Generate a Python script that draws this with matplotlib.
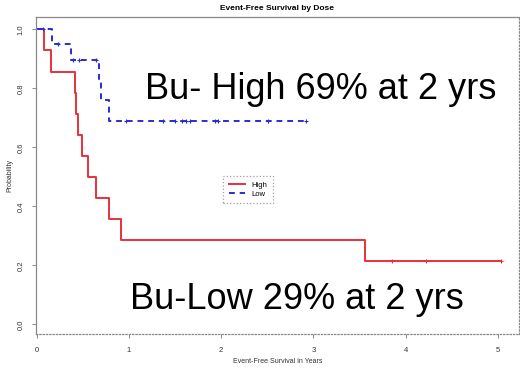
import numpy as np
import matplotlib
matplotlib.use('Agg')
import matplotlib.pyplot as plt

plt.rcParams['font.family'] = ['Liberation Sans', 'DejaVu Sans']

# Kaplan-Meier steps
high_t = [0, 0.08, 0.15, 0.41, 0.43, 0.45, 0.49, 0.56, 0.64, 0.78, 0.91, 3.56, 5.03]
high_s = [1.0, 0.929, 0.857, 0.786, 0.714, 0.643, 0.571, 0.500, 0.429, 0.357, 0.286, 0.214, 0.214]
high_cens = [3.85, 4.22, 5.03]

low_t = [0, 0.16, 0.37, 0.68, 0.70, 0.78, 2.92]
low_s = [1.0, 0.95, 0.895, 0.83, 0.76, 0.69, 0.69]
low_cens = [0.07, 0.23, 0.39, 0.46, 0.64, 0.97, 1.37, 1.50, 1.57, 1.62, 1.66,
            1.93, 1.97, 2.51, 2.92]

x_ticks = [0, 1, 2, 3, 4, 5]
y_ticks = [0.0, 0.2, 0.4, 0.6, 0.8, 1.0]

red = '#e8303a'
blue = '#2b2bd6'


def surv_at(t, times, surv):
    i = np.searchsorted(times, t, side='right') - 1
    return np.asarray(surv)[i]


fig = plt.figure(figsize=(5.2, 3.7), dpi=100)
ax = fig.add_axes([0.069, 0.097, 0.929, 0.857])

ax.step(high_t, high_s, where='post', color=red, lw=1.4, label='High')
ax.step(low_t, low_s, where='post', color=blue, lw=1.4, ls=(0, (3, 2.5)), label='Low')
ax.plot(high_cens, surv_at(high_cens, high_t, high_s), '+', color=red, ms=3.5, mew=0.8)
ax.plot(low_cens, surv_at(low_cens, low_t, low_s), '+', color=blue, ms=3.5, mew=0.8)

ax.set_xlim(-0.01, 5.23)
ax.set_ylim(-0.033, 1.042)
ax.set_xticks(x_ticks)
ax.set_yticks(y_ticks)
ax.set_xticklabels([str(v) for v in x_ticks], fontsize=5.5, color='#333333')
ax.set_yticklabels(['%.1f' % v for v in y_ticks], fontsize=5.5, color='#333333',
                   rotation=90, va='center')
ax.tick_params(axis='x', length=3, width=0.6, color='#777777', pad=6)
ax.tick_params(axis='y', length=3, width=0.6, color='#777777', pad=5)

for s in ax.spines.values():
    s.set_color('#888888')
    s.set_linewidth(0.9)
ax.spines['bottom'].set_linestyle(':')
ax.spines['right'].set_linestyle(':')

ax.set_title('Event-Free Survival by Dose', fontsize=6, fontweight='bold', pad=5)
ax.set_xlabel('Event-Free Survival in Years', fontsize=5, color='#333333', labelpad=3)
ax.set_ylabel('Probability', fontsize=5, color='#333333', labelpad=3)

leg = ax.legend(loc='upper left', bbox_to_anchor=(0.38, 0.51), fontsize=5.5,
                frameon=True, fancybox=False, handlelength=2.2, borderpad=0.7,
                labelspacing=0.2)
leg.get_frame().set_edgecolor('#888888')
leg.get_frame().set_linestyle(':')
leg.get_frame().set_linewidth(0.9)

ax.text(3.08, 0.795, 'Bu- High 69% at 2 yrs', fontsize=26, ha='center', va='center')
ax.text(2.82, 0.085, 'Bu-Low 29% at 2 yrs', fontsize=26, ha='center', va='center')

fig.savefig('out.png', dpi=100)
